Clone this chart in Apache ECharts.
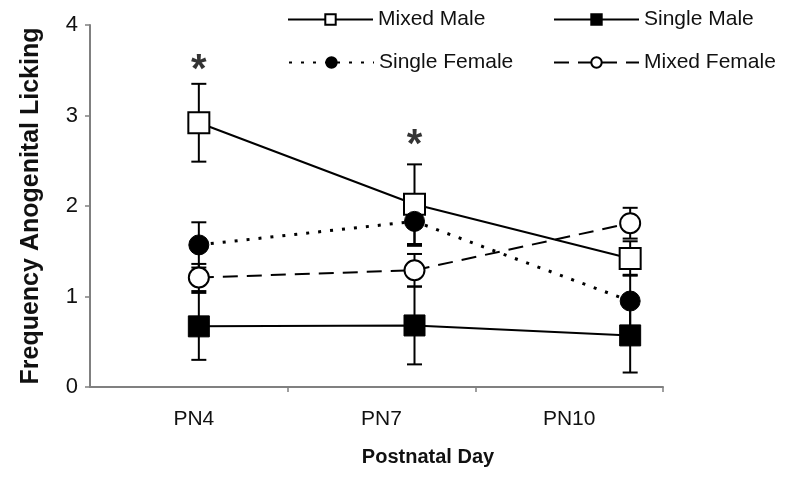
<!DOCTYPE html>
<html>
<head>
<meta charset="utf-8">
<script src="https://cdn.jsdelivr.net/npm/echarts@6/dist/echarts.min.js"></script>
<style>html,body{margin:0;padding:0;background:#fff}#chart{width:800px;height:496px}</style>
</head>
<body>
<div id="chart"></div>
<script>
// ---- data ----
const categories = ['PN4', 'PN7', 'PN10'];
const mixedMale = [2.92, 2.02, 1.42];
const mixedMaleErr = [0.43, 0.44, 0.19];
const singleMale = [0.67, 0.68, 0.57];
const singleMaleErr = [0.37, 0.43, 0.41];
const singleFemale = [1.57, 1.83, 0.95];
const singleFemaleErr = [0.25, 0.27, 0.29];
const mixedFemale = [1.21, 1.29, 1.81];
const mixedFemaleErr = [0.15, 0.18, 0.17];
const significance = [3.6, 2.77, '-'];
const yTicks = [0, 1, 2, 3, 4];

const FONT = 'Liberation Sans, Arial, sans-serif';
const chart = echarts.init(document.getElementById('chart'), null, {renderer: 'canvas'});

function errData(vals, errs) {
  return vals.map((v, i) => [i, v - errs[i], v + errs[i]]);
}
function errSeries(vals, errs) {
  return {
    type: 'custom', xAxisIndex: 2, yAxisIndex: 2, z: 1, silent: true,
    renderItem: function (params, api) {
      const lo = api.coord([api.value(0), api.value(1)]);
      const hi = api.coord([api.value(0), api.value(2)]);
      const w = 7.5;
      const st = {stroke: '#000', lineWidth: 2};
      return {type: 'group', children: [
        {type: 'line', shape: {x1: lo[0], y1: lo[1], x2: hi[0], y2: hi[1]}, style: st},
        {type: 'line', shape: {x1: lo[0] - w, y1: lo[1], x2: lo[0] + w, y2: lo[1]}, style: st},
        {type: 'line', shape: {x1: hi[0] - w, y1: hi[1], x2: hi[0] + w, y2: hi[1]}, style: st}
      ]};
    },
    data: errData(vals, errs)
  };
}
const legendText = {fontSize: 21, color: '#111', fontFamily: FONT};
function legendAt(name, left, top) {
  return {data: [name], left: left, top: top, itemWidth: 85, itemHeight: 13, itemGap: 0,
    textStyle: legendText, selectedMode: false, padding: 0};
}

const option = {
  animation: false,
  backgroundColor: '#fff',
  legend: [
    legendAt('Mixed Male', 287, 9),
    legendAt('Single Male', 553, 9),
    legendAt('Single Female', 288, 52),
    legendAt('Mixed Female', 553, 52)
  ],
  grid: [
    {left: 90, right: 137, top: 25, bottom: 109},
    {left: 100, right: 137, top: 25, bottom: 109},
    {left: 91, right: 62, top: 25, bottom: 109}
  ],
  xAxis: [
    {type: 'category', gridIndex: 0, data: categories, axisLine: {lineStyle: {color: '#808080', width: 2}},
      axisTick: {show: false}, axisLabel: {show: false}},
    {type: 'category', gridIndex: 1, data: categories, boundaryGap: true,
      axisLine: {show: false},
      axisTick: {show: true, length: 5, lineStyle: {color: '#808080', width: 1.5},
        interval: function (i) { return i > 0; }},
      axisLabel: {fontSize: 21, color: '#111', fontFamily: FONT, margin: 22, interval: 0},
      name: 'Postnatal Day', nameLocation: 'middle', nameGap: 60,
      nameTextStyle: {fontSize: 20, fontWeight: 'bold', color: '#111', fontFamily: FONT, padding: [0, 0, 0, 93]}},
    {type: 'category', gridIndex: 2, data: categories, boundaryGap: true, show: false}
  ],
  yAxis: [
    {type: 'value', gridIndex: 0, min: 0, max: 4, interval: 1,
      axisLine: {show: true, lineStyle: {color: '#808080', width: 2}},
      axisTick: {show: true, length: 5, lineStyle: {color: '#808080', width: 1.5}},
      splitLine: {show: false},
      axisLabel: {fontSize: 22, color: '#111', fontFamily: FONT, margin: 12,
        formatter: v => yTicks.includes(v) ? String(v) : ''},
      name: 'Frequency Anogenital Licking', nameLocation: 'middle', nameGap: 46,
      nameTextStyle: {fontSize: 25, fontWeight: 'bold', color: '#111', fontFamily: FONT}},
    {type: 'value', gridIndex: 1, min: 0, max: 4, show: false},
    {type: 'value', gridIndex: 2, min: 0, max: 4, show: false}
  ],
  series: [
    errSeries(mixedMale, mixedMaleErr),
    errSeries(singleMale, singleMaleErr),
    errSeries(singleFemale, singleFemaleErr),
    errSeries(mixedFemale, mixedFemaleErr),
    {name: 'Mixed Male', type: 'line', xAxisIndex: 2, yAxisIndex: 2, z: 3, data: mixedMale,
      symbol: 'rect', symbolSize: 21, showSymbol: true,
      lineStyle: {color: '#000', width: 2, type: 'solid'},
      itemStyle: {color: '#fff', borderColor: '#000', borderWidth: 2}},
    {name: 'Single Male', type: 'line', xAxisIndex: 2, yAxisIndex: 2, z: 3, data: singleMale,
      symbol: 'rect', symbolSize: 21,
      lineStyle: {color: '#000', width: 2, type: 'solid'},
      itemStyle: {color: '#000', borderColor: '#000', borderWidth: 1}},
    {name: 'Single Female', type: 'line', xAxisIndex: 2, yAxisIndex: 2, z: 3, data: singleFemale,
      symbol: 'circle', symbolSize: 20,
      lineStyle: {color: '#000', width: 3, type: [3, 9]},
      itemStyle: {color: '#000', borderColor: '#000', borderWidth: 1}},
    {name: 'Mixed Female', type: 'line', xAxisIndex: 2, yAxisIndex: 2, z: 3, data: mixedFemale,
      symbol: 'circle', symbolSize: 20,
      lineStyle: {color: '#000', width: 2, type: [15, 9]},
      itemStyle: {color: '#fff', borderColor: '#000', borderWidth: 2}},
    {name: 'sig', type: 'scatter', xAxisIndex: 2, yAxisIndex: 2, z: 4, data: significance,
      symbolSize: 0, silent: true,
      label: {show: true, position: 'inside', formatter: '*', fontSize: 40, fontWeight: 'bold',
        color: '#000', fontFamily: FONT, offset: [0, 10]}}
  ]
};
chart.setOption(option);
</script>
</body>
</html>
